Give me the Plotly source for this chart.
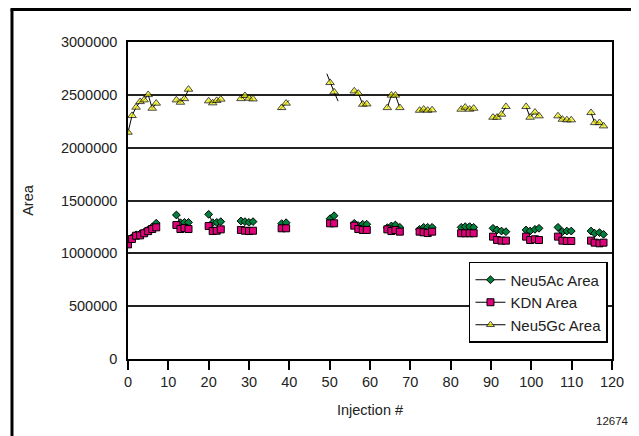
import plotly.graph_objects as go

# Injection numbers (None separates the measurement groups)
injection = [0, 1, 2, 3, 4, 5, 6, 7, None,
             12, 13, 14, 15, None,
             20, 21, 22, 23, None,
             28, 29, 30, 31, None,
             37.6, 38.1, 39.2, 39.9, None,
             49.3, 50.1, 51.1, 52.1, None,
             56.1, 57.1, 58.2, 59.2, None,
             64.3, 65.3, 66.3, 67.4, None,
             72.3, 73.3, 74.3, 75.4, None,
             82.6, 83.6, 84.7, 85.7, None,
             90.5, 91.5, 92.6, 93.7, None,
             98.7, 99.7, 100.9, 101.9, None,
             106.6, 107.7, 108.8, 109.9, None,
             114.8, 115.7, 116.9, 117.9]

neu5ac_area = [1100000, 1150000, 1175000, 1185000, 1200000, 1225000, 1250000, 1285000, None,
               1363000, 1290000, 1293000, 1293000, None,
               1369000, 1290000, 1293000, 1300000, None,
               1306000, 1300000, 1293000, 1300000, None,
               None, 1281000, 1290000, None, None,
               None, 1328000, 1356000, None, None,
               1284000, 1262000, 1275000, 1275000, None,
               1243000, 1259000, 1268000, 1246000, None,
               1227000, 1246000, 1246000, 1246000, None,
               1246000, 1253000, 1253000, 1246000, None,
               1237000, 1221000, 1211000, 1205000, None,
               1221000, 1211000, 1227000, 1237000, None,
               1246000, 1205000, 1211000, 1211000, None,
               1211000, 1190000, 1196000, 1180000]

kdn_area = [1085000, 1136000, 1167000, 1170000, 1190000, 1210000, 1230000, 1246000, None,
            1268000, 1230000, 1240000, 1230000, None,
            1259000, 1211000, 1214000, 1227000, None,
            1221000, 1214000, 1211000, 1214000, None,
            None, 1237000, 1237000, None, None,
            None, 1284000, 1284000, None, None,
            1262000, 1230000, 1221000, 1221000, None,
            1227000, 1211000, 1221000, 1205000, None,
            1205000, 1199000, 1192000, 1205000, None,
            1190000, 1190000, 1190000, 1190000, None,
            1158000, 1126000, 1120000, 1120000, None,
            1158000, 1126000, 1133000, 1126000, None,
            1158000, 1120000, 1117000, 1117000, None,
            1120000, 1101000, 1095000, 1101000]

neu5gc_area = [2145000, 2303000, 2382000, 2435000, 2451000, 2501000, 2372000, 2420000, None,
               2451000, 2429000, 2463000, 2552000, None,
               2442000, 2423000, 2445000, 2458000, None,
               2463000, 2492000, 2467000, 2460000, None,
               2359000, 2378000, 2420000, 2447000, None,
               2700000, 2615000, 2527000, 2440000, None,
               2536000, 2515000, 2410000, 2413000, None,
               2378000, 2496000, 2496000, 2378000, None,
               2353000, 2363000, 2353000, 2357000, None,
               2363000, 2382000, 2363000, 2372000, None,
               2287000, 2287000, 2316000, 2388000, None,
               2388000, 2287000, 2335000, 2300000, None,
               2300000, 2268000, 2262000, 2262000, None,
               2331000, 2236000, 2236000, 2205000]

# Neu5Gc points that appear only as line ends (no marker drawn)
neu5gc_unmarked = [37.6, 39.9, 49.3, 52.1]

y_ticks = [0, 500000, 1000000, 1500000, 2000000, 2500000, 3000000]
x_ticks = list(range(0, 121, 10))

FONT = "Liberation Sans, Arial, sans-serif"
FS = 14.5

gc_sizes = [0 if x in neu5gc_unmarked else 7.5 for x in injection]

fig = go.Figure()
fig.add_trace(go.Scatter(
    x=injection, y=neu5ac_area, name="Neu5Ac Area", mode="lines+markers",
    line=dict(color="black", width=1),
    marker=dict(symbol="diamond", size=6, color="#00803C",
                line=dict(color="black", width=1)),
    connectgaps=False))
fig.add_trace(go.Scatter(
    x=injection, y=kdn_area, name="KDN Area", mode="lines+markers",
    line=dict(color="black", width=1),
    marker=dict(symbol="square", size=7, color="#E0007A",
                line=dict(color="black", width=1)),
    connectgaps=False))
fig.add_trace(go.Scatter(
    x=injection, y=neu5gc_area, name="Neu5Gc Area", mode="lines+markers",
    line=dict(color="black", width=1),
    marker=dict(symbol="triangle-up", size=gc_sizes, color="#EEEE00",
                line=dict(color="black", width=1)),
    connectgaps=False))

# The page adds an 8 px body margin, so the figure is 8 px smaller on each axis
fig.update_layout(
    width=631, height=428,
    margin=dict(l=120, r=27, t=34, b=77, autoexpand=False),
    paper_bgcolor="white", plot_bgcolor="white",
    font=dict(family=FONT, size=FS, color="#222"),
    showlegend=True,
    legend=dict(x=0.7045, y=0.306, xanchor="left", yanchor="top",
                bgcolor="white", bordercolor="black", borderwidth=1.5,
                font=dict(family=FONT, size=15, color="#222"),
                tracegroupgap=0, itemwidth=30),
    xaxis=dict(range=[0, 120], tickvals=x_ticks, ticktext=[str(v) for v in x_ticks],
               showgrid=False, zeroline=False, automargin=False,
               showline=True, linecolor="black", linewidth=1.5, mirror=True,
               ticks="outside", ticklen=9, tickwidth=1.5, tickcolor="black",
               title=dict(text="Injection #", font=dict(family=FONT, size=FS), standoff=16)),
    yaxis=dict(range=[0, 3000000], tickvals=y_ticks, ticktext=[str(v) for v in y_ticks],
               showgrid=True, gridcolor="#222", gridwidth=1.5, zeroline=False,
               automargin=False,
               showline=True, linecolor="black", linewidth=1.5, mirror=True,
               ticks="outside", ticklen=6, tickcolor="rgba(0,0,0,0)",
               title=dict(text="Area", font=dict(family=FONT, size=FS), standoff=24)),
    shapes=[
        dict(type="line", xref="paper", yref="paper", x0=-0.2397, x1=-0.2397,
             y0=1.1025, y1=-0.27, line=dict(color="black", width=3)),
        dict(type="line", xref="paper", yref="paper", x0=-0.2428, x1=1.07,
             y0=1.1025, y1=1.1025, line=dict(color="black", width=3)),
    ],
    annotations=[
        dict(text="12674", xref="paper", yref="paper", x=1.04, y=-0.195,
             xanchor="right", yanchor="middle", showarrow=False,
             font=dict(family=FONT, size=11.5, color="#222")),
    ],
)

fig.write_html("out.html")
